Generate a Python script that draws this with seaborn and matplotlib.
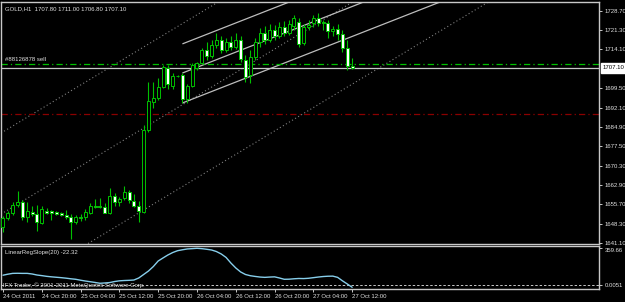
import matplotlib
matplotlib.use("Agg")
import matplotlib.pyplot as plt
import matplotlib.transforms as mtransforms
import numpy as np
import pandas as pd
import seaborn as sns

# ---------------- data ----------------
title_text = "GOLD,H1  1707.80 1711.00 1706.80 1707.10"
opens = [1647.1, 1650.5, 1652.4, 1655.4, 1656.5, 1650.9, 1652.7, 1652.0, 1648.6, 1653.1,
         1653.1, 1652.7, 1652.4, 1651.6, 1650.9, 1649.0, 1650.9, 1650.9, 1652.4, 1655.0,
         1655.0, 1654.6, 1652.4, 1658.8, 1656.5, 1658.0, 1660.3, 1656.9, 1655.0, 1652.7,
         1683.7, 1694.3, 1695.8, 1699.9, 1707.1, 1700.3, 1704.1, 1704.5, 1695.4, 1700.3,
         1707.1, 1709.0, 1713.9, 1711.6, 1715.8, 1717.7, 1713.9, 1716.9, 1715.0, 1717.7,
         1710.1, 1704.5, 1711.3, 1716.9, 1720.3, 1717.7, 1721.4, 1719.2, 1722.6, 1720.3,
         1722.9, 1724.5, 1716.5, 1722.6, 1724.1, 1726.0, 1724.5, 1724.1, 1721.1, 1721.8,
         1719.9, 1714.6, 1707.8]
highs = [1651.2, 1653.1, 1656.5, 1660.7, 1657.3, 1656.5, 1655.0, 1655.4, 1655.0, 1654.3,
         1653.5, 1653.1, 1652.7, 1653.5, 1652.0, 1651.6, 1652.0, 1653.9, 1656.2, 1657.7,
         1658.0, 1656.2, 1661.8, 1659.9, 1658.4, 1662.6, 1661.1, 1659.5, 1656.9, 1685.6,
         1701.8, 1701.8, 1703.3, 1708.2, 1708.2, 1705.2, 1704.5, 1705.2, 1701.1, 1709.0,
         1709.4, 1714.6, 1716.9, 1717.7, 1720.3, 1719.2, 1718.4, 1719.2, 1720.3, 1719.2,
         1712.0, 1713.9, 1718.4, 1722.2, 1723.0, 1723.7, 1723.3, 1724.5, 1724.8, 1725.2,
         1727.1, 1726.0, 1723.7, 1725.2, 1727.1, 1727.9, 1725.2, 1725.2, 1723.0, 1723.7,
         1721.4, 1717.7, 1711.0]
lows = [1645.2, 1649.7, 1651.6, 1654.6, 1649.7, 1649.0, 1651.2, 1645.6, 1648.2, 1652.0,
        1649.7, 1651.6, 1651.2, 1650.1, 1642.6, 1648.2, 1649.4, 1649.7, 1652.0, 1654.3,
        1654.3, 1652.4, 1652.0, 1655.0, 1655.0, 1657.3, 1656.2, 1654.6, 1649.0, 1652.4,
        1682.9, 1692.0, 1695.0, 1699.6, 1699.2, 1699.2, 1703.7, 1693.9, 1693.9, 1699.9,
        1706.3, 1708.6, 1710.1, 1710.9, 1714.6, 1712.8, 1713.1, 1713.9, 1714.3, 1709.4,
        1701.8, 1701.4, 1710.1, 1715.0, 1716.2, 1716.9, 1717.7, 1718.4, 1719.2, 1719.6,
        1721.4, 1715.0, 1715.8, 1721.4, 1722.6, 1723.0, 1721.4, 1718.4, 1719.2, 1717.7,
        1713.1, 1706.3, 1706.8]
closes = [1650.5, 1652.4, 1655.4, 1656.5, 1650.9, 1653.1, 1652.0, 1649.0, 1653.9, 1652.4,
          1652.4, 1652.0, 1651.6, 1650.9, 1649.0, 1650.9, 1650.5, 1652.7, 1655.0, 1654.6,
          1654.6, 1652.4, 1658.8, 1656.5, 1657.7, 1660.3, 1657.3, 1655.0, 1653.1, 1683.7,
          1694.6, 1695.8, 1699.9, 1707.5, 1701.1, 1704.1, 1704.0, 1695.4, 1700.3, 1708.2,
          1709.0, 1713.9, 1711.6, 1715.8, 1717.7, 1713.9, 1716.9, 1715.0, 1717.7, 1710.5,
          1703.7, 1711.3, 1716.9, 1720.3, 1717.7, 1721.4, 1719.2, 1722.6, 1720.3, 1723.7,
          1726.0, 1716.2, 1722.6, 1723.3, 1726.0, 1724.1, 1724.1, 1721.1, 1721.8, 1719.9,
          1714.6, 1707.9, 1707.1]

slope_name = "LinearRegSlope(20) -22.32"
slope_vals = [96, 106, 114, 115, 114, 114, 108, 98, 92, 85,
              80, 76, 72, 67, 61, 56, 47, 39, 32, 25,
              17, 20, 24, 34, 41, 44, 46, 49, 69, 103,
              137, 181, 235, 265, 294, 318, 336, 345, 353, 356,
              359.66, 356, 350, 343, 328, 304, 270, 215, 167, 128,
              103, 91, 84, 78, 75, 78, 80, 69, 56, 57,
              61, 64, 63, 66, 72, 78, 83, 86, 87, 75,
              41, 10, -22.32]

time_label_bars = [0, 8, 16, 24, 32, 40, 48, 56, 64, 72]
time_labels = ["24 Oct 2011", "24 Oct 20:00", "25 Oct 04:00", "25 Oct 12:00",
               "25 Oct 20:00", "26 Oct 04:00", "26 Oct 12:00", "26 Oct 20:00",
               "27 Oct 04:00", "27 Oct 12:00"]
price_ticks = [1728.70, 1721.30, 1714.10, 1699.50, 1692.10, 1684.90,
               1677.50, 1670.30, 1662.90, 1655.70, 1648.30, 1641.10]
bid_price = 1707.10
order_price = 1708.6
order_label = "#88126878 sell"
stop_price = 1689.85
ind_ticks = [359.66, 0.0051]
ind_tick_labels = ["359.66", "0.0051"]
copyright_text = "IFX Trader, \u00a9 2001-2011 MetaQuotes Software Corp."

# regression channels (bar index, price)
solid_bars = [37, 72]
solid_upper = [1716.2, 1741.3]
solid_mid = [1705.2, 1730.3]
solid_lower = [1693.9, 1719.0]
dotted_bars = [0, 72]
dotted_upper = [1683.0, 1762.5]
dotted_mid = [1652.4, 1731.9]
dotted_lower = [1621.5, 1701.0]

# ---------------- style ----------------
sns.set_style("dark", {"axes.facecolor": "black", "figure.facecolor": "black"})
plt.rcParams["font.family"] = ["Liberation Sans", "DejaVu Sans"]

FG = "#c8c8c8"
GREEN = "#00c000"
W, H = 625, 302
fig = plt.figure(figsize=(W / 100, H / 100), dpi=100)
fig.patch.set_facecolor("black")

x_left, x_right = 1, 599
ax = fig.add_axes([x_left / W, 1 - 243.5 / H, (x_right - x_left) / W, (243.5 - 2) / H])
axi = fig.add_axes([x_left / W, 1 - 289 / H, (x_right - x_left) / W, (289 - 246) / H])

XMIN, XMAX = -0.41, 122.9
df = pd.DataFrame({"bar": np.arange(len(opens)), "open": opens, "high": highs,
                   "low": lows, "close": closes})

for a in (ax, axi):
    a.set_facecolor("black")
    a.set_xlim(XMIN, XMAX)
    for s in a.spines.values():
        s.set_visible(True)
        s.set_color(FG)
        s.set_linewidth(1.0)
    a.grid(False)

# ---- main panel ----
ax.set_ylim(1640.87, 1732.0)

# dotted channel (full lines)
for ys in (dotted_upper, dotted_mid, dotted_lower):
    ax.axline((dotted_bars[0], ys[0]), (dotted_bars[1], ys[1]), color="#808080",
              linestyle=(0, (1, 2.2)), linewidth=0.8, zorder=1)
# solid channel rays
for ys in (solid_upper, solid_mid, solid_lower):
    slope = (ys[1] - ys[0]) / (solid_bars[1] - solid_bars[0])
    ax.plot([solid_bars[0], XMAX], [ys[0], ys[0] + slope * (XMAX - solid_bars[0])],
            color="#bdbdbd", linewidth=0.9, zorder=2, solid_capstyle="butt")

# horizontal lines
ax.axhline(order_price, color=GREEN, linestyle=(0, (5, 2.5, 1, 2.5)), linewidth=0.9, zorder=2)
ax.axhline(stop_price, color="#8b0000", linestyle=(0, (5, 2.5, 1, 2.5)), linewidth=0.9, zorder=2)
ax.axhline(bid_price, color=FG, linewidth=0.9, zorder=2)

# candles
ax.vlines(df["bar"], df["low"], df["high"], color=GREEN, linewidth=0.8, zorder=3)
up = df["close"] >= df["open"]
body_h = (df["close"] - df["open"]).abs().clip(lower=0.15)
body_b = df[["open", "close"]].min(axis=1)
ax.bar(df["bar"][up], body_h[up], bottom=body_b[up], width=0.62, color="black",
       edgecolor=GREEN, linewidth=0.7, zorder=4)
ax.bar(df["bar"][~up], body_h[~up], bottom=body_b[~up], width=0.62, color="white",
       edgecolor=GREEN, linewidth=0.7, zorder=4)

ax.set_xticks([])
ax.yaxis.tick_right()
ax.set_yticks(price_ticks)
ax.set_yticklabels([f"{v:.2f}" for v in price_ticks])
ax.tick_params(axis="y", which="both", right=True, left=False, length=2.5, width=0.7,
               color=FG, labelcolor="#e0e0e0", labelsize=4.3, pad=1.5)

trans = mtransforms.blended_transform_factory(ax.transAxes, ax.transData)
ax.text(1.0065, bid_price, f"{bid_price:.2f}", transform=trans, ha="left", va="center",
        fontsize=4.3, color="black",
        bbox=dict(boxstyle="square,pad=0.35", facecolor="white", edgecolor="white"),
        clip_on=False, zorder=10)
ax.text(0.006, 0.983, title_text, transform=ax.transAxes, ha="left", va="top",
        fontsize=4.3, color="#e0e0e0")
ax.text(0.007, order_price + 0.6, order_label, transform=trans, ha="left", va="bottom",
        fontsize=4.3, color="#e0e0e0")

# ---- indicator panel ----
axi.set_ylim(-39, 382)
axi.axhline(0.0051, color=FG, linestyle=(0, (2.5, 2)), linewidth=0.7)
ind_df = pd.DataFrame({"bar": np.arange(len(slope_vals)), "slope": slope_vals})
sns.lineplot(data=ind_df, x="bar", y="slope", ax=axi, color="#87ceeb", linewidth=1.0,
             legend=False)
axi.set_xlim(XMIN, XMAX)
axi.set_xlabel("")
axi.set_ylabel("")
axi.yaxis.tick_right()
axi.set_yticks(ind_ticks)
axi.set_yticklabels(ind_tick_labels)
axi.tick_params(axis="y", right=True, left=False, length=2.5, width=0.7, color=FG,
                labelcolor="#e0e0e0", labelsize=4.3, pad=1.5)
lbls = axi.get_yticklabels()
lbls[0].set_va("top")
axi.set_xticks(time_label_bars)
axi.set_xticklabels(time_labels, ha="left")
axi.tick_params(axis="x", bottom=True, length=2.5, width=0.7, color=FG,
                labelcolor="#e0e0e0", labelsize=4.3, pad=1.2)
axi.text(0.006, 0.90, slope_name, transform=axi.transAxes, ha="left", va="top",
         fontsize=4.3, color="#e0e0e0")
axi.text(0.004, 0.10, copyright_text, transform=axi.transAxes, ha="left", va="center",
         fontsize=4.3, color="#e0e0e0")

fig.savefig("out.png", dpi=100, facecolor="black")
